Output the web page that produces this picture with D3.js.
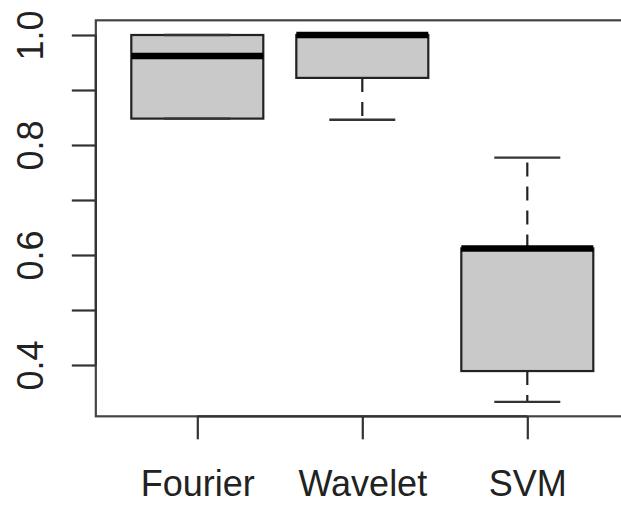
<!DOCTYPE html>
<html>
<head>
<meta charset="utf-8">
<script src="https://cdn.jsdelivr.net/npm/d3@7"></script>
<style>
  html, body { margin: 0; padding: 0; background: #fff; }
  svg { display: block; }
  text { font-family: "Liberation Sans", Arial, Helvetica, sans-serif; fill: #222; }
</style>
</head>
<body>
<svg id="chart" width="621" height="506"></svg>
<script>
// ---- data ----
const categories = ["Fourier", "Wavelet", "SVM"];
const whiskerLow = [0.848, 0.846, 0.333];
const q1Values   = [0.848, 0.922, 0.389];
const medians    = [0.962, 1.000, 0.612];
const q3Values   = [1.000, 1.000, 0.612];
const whiskerHigh= [1.000, 1.000, 0.777];
const yTicks = [0.4, 0.5, 0.6, 0.7, 0.8, 0.9, 1.0];
const yTickLabels = ["0.4", "", "0.6", "", "0.8", "", "1.0"];

const boxes = categories.map((c, i) => ({
  name: c, pos: i + 1,
  lo: whiskerLow[i], q1: q1Values[i], med: medians[i], q3: q3Values[i], hi: whiskerHigh[i]
}));

// ---- layout ----
const svg = d3.select("#chart");
const x = d3.scaleLinear().domain([1, 3]).range([197.3, 527.3]);
const y = d3.scaleLinear().domain([0.4, 1.0]).range([365, 35]);
const frame = { left: x(0.385), right: x(3.615), top: y(1.0267), bottom: y(0.3067) };
const boxHalf = 0.4, capHalf = 0.2;
const axisColor = "#333";

// frame
svg.append("rect")
  .attr("x", frame.left).attr("y", frame.top)
  .attr("width", frame.right - frame.left).attr("height", frame.bottom - frame.top)
  .attr("fill", "none").attr("stroke", "#444").attr("stroke-width", 2.2);

// y axis
const yAxis = d3.axisLeft(y).tickValues(yTicks).tickSize(24).tickPadding(0)
  .tickFormat((d, i) => yTickLabels[i]);
const gy = svg.append("g").attr("transform", `translate(${frame.left},0)`).call(yAxis);
gy.select(".domain").attr("d", `M0,${y(0.4)}V${y(1.0)}`).attr("stroke", axisColor).attr("stroke-width", 2.2);
gy.selectAll(".tick line").attr("stroke", axisColor).attr("stroke-width", 2.2);
gy.selectAll(".tick text")
  .attr("x", null).attr("dy", null)
  .attr("transform", `translate(${30 - frame.left},0) rotate(-90)`)
  .attr("text-anchor", "middle").attr("dominant-baseline", "central")
  .style("font-size", "36px").style("fill", "#222");

// x axis
const xAxis = d3.axisBottom(x).tickValues([1, 2, 3]).tickSize(23).tickPadding(0)
  .tickFormat((d, i) => categories[i]);
const gx = svg.append("g").attr("transform", `translate(0,${frame.bottom})`).call(xAxis);
gx.select(".domain").attr("d", `M${x(1)},0H${x(3)}`).attr("stroke", axisColor).attr("stroke-width", 2.2);
gx.selectAll(".tick line").attr("stroke", axisColor).attr("stroke-width", 2.2);
gx.selectAll(".tick text")
  .attr("y", 80).attr("dy", null)
  .style("font-size", "36px").style("fill", "#222");

// boxes
const g = svg.append("g");
const b = g.selectAll("g.box").data(boxes).join("g").attr("class", "box");

// whiskers (dashed)
b.append("line")
  .attr("x1", d => x(d.pos)).attr("x2", d => x(d.pos))
  .attr("y1", d => y(d.q3)).attr("y2", d => y(d.hi))
  .attr("stroke", "#222").attr("stroke-width", 2.2).attr("stroke-dasharray", "14,10");
b.append("line")
  .attr("x1", d => x(d.pos)).attr("x2", d => x(d.pos))
  .attr("y1", d => y(d.q1)).attr("y2", d => y(d.lo))
  .attr("stroke", "#222").attr("stroke-width", 2.2).attr("stroke-dasharray", "14,10");
// box body
b.append("rect")
  .attr("x", d => x(d.pos - boxHalf))
  .attr("width", d => x(d.pos + boxHalf) - x(d.pos - boxHalf))
  .attr("y", d => y(d.q3))
  .attr("height", d => y(d.q1) - y(d.q3))
  .attr("fill", "#c9c9c9").attr("stroke", "#222").attr("stroke-width", 2.2);
// caps
b.append("line")
  .attr("x1", d => x(d.pos - capHalf)).attr("x2", d => x(d.pos + capHalf))
  .attr("y1", d => y(d.hi)).attr("y2", d => y(d.hi))
  .attr("stroke", "#333").attr("stroke-width", 2.4);
b.append("line")
  .attr("x1", d => x(d.pos - capHalf)).attr("x2", d => x(d.pos + capHalf))
  .attr("y1", d => y(d.lo)).attr("y2", d => y(d.lo))
  .attr("stroke", "#333").attr("stroke-width", 2.4);
// median
b.append("line")
  .attr("x1", d => x(d.pos - boxHalf)).attr("x2", d => x(d.pos + boxHalf))
  .attr("y1", d => y(d.med)).attr("y2", d => y(d.med))
  .attr("stroke", "#000").attr("stroke-width", 6.5);
</script>
</body>
</html>
